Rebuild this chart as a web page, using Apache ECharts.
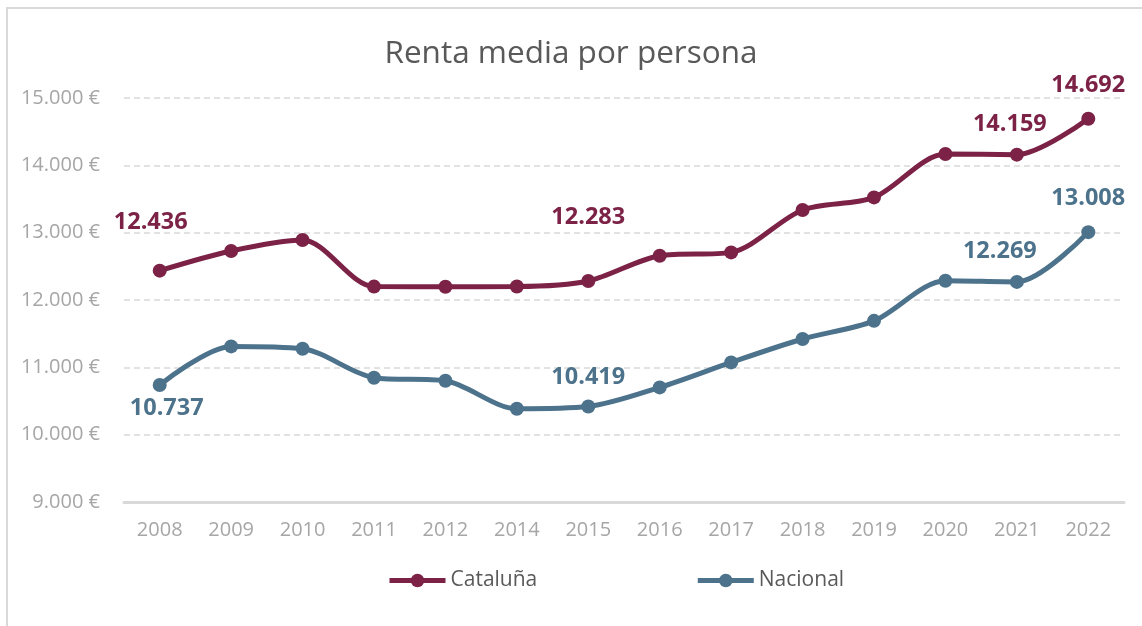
<!DOCTYPE html>
<html>
<head>
<meta charset="utf-8">
<title>Renta media por persona</title>
<script src="https://cdn.jsdelivr.net/npm/echarts@6/dist/echarts.min.js"></script>
<style>
  html, body { margin: 0; padding: 0; background: #fff; }
  #chart { width: 1142px; height: 626px; }
</style>
</head>
<body>
<div id="chart"></div>
<script>
// Years on the category axis (2013 is not part of the series)
const years = ['2008','2009','2010','2011','2012','2014','2015','2016','2017','2018','2019','2020','2021','2022'];

// Average income per person, euros
const cataluna = [12436, 12728, 12891, 12199, 12197, 12200, 12283, 12658, 12707, 13337, 13524, 14168, 14159, 14692];
const nacional = [10737, 11311, 11276, 10846, 10800, 10386, 10419, 10702, 11073, 11421, 11690, 12287, 12269, 13008];

// Y axis ticks
const yTicks = [9000, 10000, 11000, 12000, 13000, 14000, 15000];

// Years whose value is printed next to the point, with the label offset
const catLabels = { '2008': [-9, -48], '2015': [0, -64], '2021': [-7, -30], '2022': [0, -33] };
const nacLabels = { '2008': [7, 23], '2015': [0, -29], '2021': [-17, -31], '2022': [0, -34] };

const CAT_COLOR = '#7b2246';
const NAC_COLOR = '#4d738c';
const FONT = '"Open Sans", sans-serif';

function fmtThousands(v) {
  return String(Math.round(v)).replace(/\B(?=(\d{3})+(?!\d))/g, '.');
}

function buildData(values, labels, color) {
  return values.map((v, i) => {
    const off = labels[years[i]];
    if (!off) return v;
    return {
      value: v,
      label: {
        show: true,
        position: 'inside',
        offset: off,
        formatter: p => fmtThousands(p.value),
        color: color,
        fontFamily: FONT,
        fontWeight: 'bold',
        fontSize: 23.5
      }
    };
  });
}

const chart = echarts.init(document.getElementById('chart'), null, { renderer: 'canvas' });

chart.setOption({
  backgroundColor: '#ffffff',
  animation: false,
  title: {
    text: 'Renta media por persona',
    left: 'center',
    top: 33,
    textStyle: { fontFamily: FONT, fontWeight: 'normal', fontSize: 31.5, color: '#595959' }
  },
  graphic: [{
    type: 'polyline',
    shape: { points: [[7, 626], [7, 8], [1142, 8]] },
    style: { stroke: '#d9d9d9', lineWidth: 2, fill: null },
    silent: true
  }],
  legend: {
    left: 382,
    top: 565,
    itemWidth: 56,
    itemHeight: 17,
    itemGap: 158,
    lineStyle: { width: 5 },
    textStyle: { fontFamily: FONT, fontSize: 21, color: '#595959' },
    data: ['Cataluña', 'Nacional']
  },
  grid: { left: 124, right: 18, top: 98, bottom: 124, containLabel: false },
  xAxis: {
    type: 'category',
    data: years,
    boundaryGap: true,
    axisLine: { show: true, lineStyle: { color: '#d9d9d9', width: 3 } },
    axisTick: { show: false },
    axisLabel: { fontFamily: FONT, fontSize: 20, color: '#a6a6a6', margin: 18 }
  },
  yAxis: {
    type: 'value',
    min: yTicks[0],
    max: yTicks[yTicks.length - 1],
    interval: 1000,
    axisLine: { show: false },
    axisTick: { show: false },
    axisLabel: {
      fontFamily: FONT, fontSize: 20, color: '#a6a6a6', margin: 24,
      formatter: v => fmtThousands(v) + ' €'
    },
    splitLine: { show: true, lineStyle: { color: '#d9d9d9', type: [6, 4], width: 1.5 } }
  },
  series: [
    {
      name: 'Cataluña',
      type: 'line',
      smooth: 0.3,
      data: buildData(cataluna, catLabels, CAT_COLOR),
      symbol: 'circle',
      symbolSize: 14,
      lineStyle: { color: CAT_COLOR, width: 5 },
      itemStyle: { color: CAT_COLOR },
      label: { show: false },
      z: 3
    },
    {
      name: 'Nacional',
      type: 'line',
      smooth: 0.3,
      data: buildData(nacional, nacLabels, NAC_COLOR),
      symbol: 'circle',
      symbolSize: 14,
      lineStyle: { color: NAC_COLOR, width: 5 },
      itemStyle: { color: NAC_COLOR },
      label: { show: false },
      z: 3
    }
  ]
});
</script>
</body>
</html>
